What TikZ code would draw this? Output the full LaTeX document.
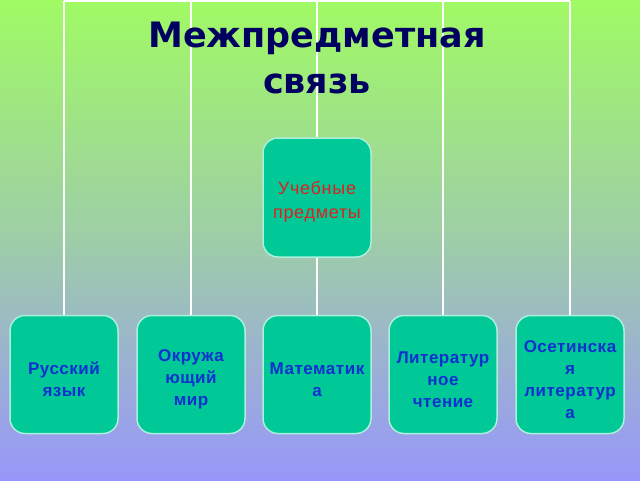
\documentclass[tikz,border=0pt]{standalone}
\usepackage{fontspec}
\setmainfont{Liberation Sans}
\newfontfamily\titlefont{DejaVu Sans}
\newfontfamily\boxfont[LetterSpace=3]{Liberation Sans}
\newfontfamily\centfont[LetterSpace=4]{Liberation Sans}
\definecolor{bgtop}{RGB}{160,250,100}
\definecolor{bgmid}{RGB}{158,205,168}
\definecolor{bgbot}{RGB}{152,150,250}
\definecolor{boxfill}{RGB}{0,200,150}
\definecolor{boxline}{RGB}{170,240,220}
\definecolor{titlecol}{RGB}{0,0,96}
\definecolor{subjcol}{RGB}{16,48,208}
\definecolor{centcol}{RGB}{224,32,32}
\tikzset{
  subj/.style={draw=boxline, line width=1.5pt, fill=boxfill, rounded corners=15pt,
    minimum width=108pt, minimum height=118pt, inner sep=0pt},
  subjtxt/.style={align=center, inner sep=0pt, yshift=-5pt,
    text=subjcol, font=\boxfont\bfseries\fontsize{17}{22}\selectfont},
  centtxt/.style={align=center, inner sep=0pt, yshift=-4pt,
    text=centcol, font=\centfont\fontsize{18}{24}\selectfont},
  conn/.style={draw=white, line width=1.8pt},
  ttl/.style={text=titlecol, font=\titlefont\bfseries\fontsize{35}{46}\selectfont, inner sep=0pt, anchor=base}
}
\begin{document}
\begin{tikzpicture}[x=1pt,y=-1pt]
\shade[top color=bgtop, bottom color=bgbot, middle color=bgmid] (0,0) rectangle (640,480);
\useasboundingbox (0,0) rectangle (640,480);
\coordinate (t1) at (64,1);
\coordinate (t2) at (191,1);
\coordinate (t3) at (317,1);
\coordinate (t4) at (443,1);
\coordinate (t5) at (570,1);
\node[subj, label={[subjtxt]center:Русский\\язык}] (b1) at (64,374.5) {};
\node[subj, label={[subjtxt]center:Окружа\\ющий\\мир}] (b2) at (191,374.5) {};
\node[subj, label={[subjtxt]center:Математик\\а}] (b3) at (317,374.5) {};
\node[subj, label={[subjtxt]center:Литератур\\ное\\чтение}] (b4) at (443,374.5) {};
\node[subj, label={[subjtxt]center:Осетинска\\я\\литератур\\а}] (b5) at (570,374.5) {};
\node[subj, minimum height=119pt, label={[centtxt]center:Учебные\\предметы}] (c) at (317,197.5) {};
\draw[conn] (t1) -- (t5);
\draw[conn] (t1) -- (b1.north);
\draw[conn] (t2) -- (b2.north);
\draw[conn] (t3) -- (c.north);
\draw[conn] (c.south) -- (b3.north);
\draw[conn] (t4) -- (b4.north);
\draw[conn] (t5) -- (b5.north);
\node[ttl] (title1) at (317,47) {Межпредметная};
\node[ttl] (title2) at (317,93) {связь};
\end{tikzpicture}
\end{document}
